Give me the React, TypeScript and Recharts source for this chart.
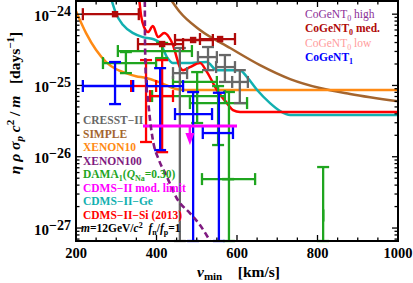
import React from 'react';
import { ComposedChart, Line, Scatter, XAxis, YAxis, ErrorBar } from 'recharts';

const W = 413;
const H = 283;
const PL = 76;
const PR = 398;
const PT = 1;
const PB = 241;
const FONT = '"Liberation Serif", "Times New Roman", Times, serif';

const X_DOMAIN: [number, number] = [200, 1000];
const Y_DOMAIN: [number, number] = [6.58e-28, 1.53e-24];
const Y_MIN = Y_DOMAIN[0];
const Y_MAX = Y_DOMAIN[1];

const xMajor = [200, 400, 600, 800, 1000];
const xTicks = [200, 250, 300, 350, 400, 450, 500, 550, 600, 650, 700, 750, 800, 850, 900, 950, 1000];
const yMajor = [1e-27, 1e-26, 1e-25, 1e-24];
const yMajorLabels = ['\u221227', '\u221226', '\u221225', '\u221224'];
const yMinorFactors = [2, 3, 4, 5, 6, 7, 8, 9];
const yTicks = [
  7e-28, 8e-28, 9e-28,
  ...yMajor,
  ...yMajor.flatMap((m) => yMinorFactors.map((f) => f * m)),
].filter((v) => v >= Y_MIN && v <= Y_MAX);

// ---- limit curves: v_min [km/s], rate [days^-1]
const simpleCurve = [
  { x: 438, y: 1.53e-24 }, { x: 458, y: 1.07e-24 }, { x: 508, y: 6.0e-25 },
  { x: 583, y: 3.35e-25 }, { x: 657, y: 1.93e-25 }, { x: 732, y: 1.23e-25 },
  { x: 806, y: 9.2e-26 }, { x: 881, y: 7.6e-26 }, { x: 1000, y: 6.0e-26 },
];
const xenon10Curve = [
  { x: 200, y: 1.1e-24 }, { x: 225, y: 5.43e-25 }, { x: 250, y: 3.14e-25 },
  { x: 275, y: 2.13e-25 }, { x: 299, y: 1.7e-25 }, { x: 324, y: 1.49e-25 },
  { x: 349, y: 1.35e-25 }, { x: 374, y: 1.27e-25 }, { x: 399, y: 1.15e-25 },
  { x: 424, y: 1.01e-25 }, { x: 448, y: 8.9e-26 }, { x: 473, y: 8.63e-26 },
  { x: 1000, y: 8.63e-26 },
];
const cdmsGeCurve = [
  { x: 289, y: 1.53e-24 }, { x: 299, y: 1.035e-24 }, { x: 317, y: 7.03e-25 },
  { x: 342, y: 5.43e-25 }, { x: 366, y: 4.77e-25 }, { x: 391, y: 4.48e-25 },
  { x: 409, y: 3.94e-25 }, { x: 426, y: 2.5e-25 }, { x: 441, y: 2.06e-25 },
  { x: 476, y: 2.06e-25 }, { x: 525, y: 2.13e-25 }, { x: 550, y: 1.64e-25 },
  { x: 607, y: 1.64e-25 }, { x: 625, y: 1.31e-25 }, { x: 650, y: 8.63e-26 },
  { x: 682, y: 5.66e-26 }, { x: 707, y: 4.38e-26 }, { x: 732, y: 3.85e-26 },
  { x: 1000, y: 3.85e-26 },
];
const cdmsSiCurve = [
  { x: 357.5, y: 1.53e-24 }, { x: 361.5, y: 9.7e-25 }, { x: 369, y: 6.59e-25 },
  { x: 379, y: 5.61e-25 }, { x: 391, y: 6.8e-25 }, { x: 404, y: 4.77e-25 },
  { x: 419, y: 5.43e-25 }, { x: 431, y: 4.77e-25 }, { x: 441, y: 3.69e-25 },
  { x: 448.5, y: 2.67e-25 }, { x: 458, y: 1.81e-25 }, { x: 466, y: 1.64e-25 },
  { x: 483, y: 1.81e-25 }, { x: 508, y: 2.06e-25 }, { x: 525.5, y: 1.54e-25 },
  { x: 550, y: 8.63e-26 }, { x: 575, y: 5.66e-26 }, { x: 590, y: 4.52e-26 },
  { x: 607.5, y: 4.24e-26 }, { x: 1000, y: 4.24e-26 },
];
const xenon100Curve = [
  { x: 371.0, y: 1.53e-24 }, { x: 371.4, y: 4.34e-25 }, { x: 374, y: 1.19e-25 },
  { x: 379, y: 6.24e-26 }, { x: 384, y: 3.27e-26 }, { x: 391, y: 1.71e-26 },
  { x: 406, y: 9.0e-27 }, { x: 424, y: 5.5e-27 }, { x: 453, y: 2.47e-27 },
  { x: 483, y: 1.62e-27 }, { x: 508, y: 1.1e-27 }, { x: 533, y: 6.6e-28 },
];
const cdmsModLimit = [{ x: 366.5, y: 2.7e-26 }, { x: 600, y: 2.7e-26 }];
const cdmsModArrowStem = [{ x: 483, y: 2.7e-26 }, { x: 483.01, y: 1.8e-26 }];
const cdmsModArrowTip = [{ x: 483, y: 1.46e-26 }];

// ---- data crosses: [v, vLow, vHigh, rate, rateLow, rateHigh]  (rateLow = axis floor: open downward)
const cresstPoints = [
  [458, 441, 476, 1.49e-25, Y_MIN, 3.35e-25],
  [528, 503, 550, 2.5e-25, 1.64e-25, 3.46e-25],
  [570, 548, 595, 1.81e-25, 1.12e-25, 2.67e-25],
  [607, 588, 627, 1.12e-25, 5.66e-26, 1.64e-25],
];
const damaPoints = [
  [414, 304, 488, 3.04e-25, 2.42e-25, 3.94e-25],
  [324, 267, 399, 2.06e-25, 1.49e-25, 2.94e-25],
  [501, 441, 550, 1.12e-25, 2.97e-26, 1.54e-25],
  [553, 389, 570, 7.1e-26, 1.46e-26, 9.8e-26],
  [580, 483, 625, 5.66e-26, Y_MIN, 8.1e-26],
  [578, 513, 645, 4.86e-27, 4.86e-27, 4.86e-27],
  [814, 814, 814, 1.5e-27, Y_MIN, 7.17e-27],
];
const cogent1Points = [
  [297, 217, 342, 9.82e-26, 5.48e-26, 2.13e-25],
  [409, 376, 466, 9.8e-26, 1.24e-26, 1.75e-25],
  [491, 446, 538, 3.97e-26, Y_MIN, 8.08e-26],
  [555, 515, 590, 2.15e-26, Y_MIN, 7.9e-26],
];
const cdmsSiPoints = [
  [374, 337, 399, 9.82e-26, 1.61e-26, 2.27e-25],
  [414, 384, 441, 7.1e-26, 1.16e-26, 2.27e-25],
];
const cogent0MedPoints = [
  [297, 217, 356, 1.0e-24, 1.0e-24, 1.0e-24],
  [414, 354, 466, 3.81e-25, 3.81e-25, 3.81e-25],
  [491, 446, 540, 4.34e-25, 4.34e-25, 4.34e-25],
  [558, 508, 595, 4.48e-25, 4.48e-25, 4.48e-25],
];

const C = {
  cresst: '#676767',
  simple: '#a4652e',
  xenon10: '#ff8a14',
  xenon100: '#7f1a80',
  dama: '#1fa51f',
  mod: '#ff00ff',
  ge: '#12b0b0',
  si: '#ff0000',
  high: '#8b2f97',
  med: '#b00a0a',
  low: '#ff9c9c',
  cogent1: '#0000ff',
};

const toCross = (rows: number[][]) =>
  rows.map(([v, vLo, vHi, r, rLo, rHi]) => ({
    x: v,
    y: r,
    ex: [v - vLo, vHi - v],
    ey: [r - rLo, rHi - r],
  }));

const noShape = () => <g />;
const squareShape = (p: any) => (
  <rect x={p.cx - 3.2} y={p.cy - 3.2} width={6.4} height={6.4} fill={C.med} />
);
const arrowShape = (p: any) => (
  <path d={`M${p.cx - 4.5},${p.cy - 12} L${p.cx + 4.5},${p.cy - 12} L${p.cx},${p.cy} Z`} fill={C.mod} />
);

const renderXTick = (props: any) => {
  const { x, payload } = props;
  const v = payload.value as number;
  const major = xMajor.indexOf(v) >= 0;
  const len = major ? 6 : 3.5;
  return (
    <g>
      <line x1={x} x2={x} y1={PB} y2={PB - len} stroke="#000" strokeWidth={1.3} />
      <line x1={x} x2={x} y1={PT} y2={PT + len} stroke="#000" strokeWidth={1.3} />
      {major && (
        <text x={x} y={258} textAnchor="middle" fontFamily={FONT} fontWeight="bold" fontSize={14.5} fill="#000">
          {v}
        </text>
      )}
    </g>
  );
};

const renderYTick = (props: any) => {
  const { y, payload } = props;
  const v = payload.value as number;
  const idx = yMajor.indexOf(v);
  const major = idx >= 0;
  const len = major ? 6 : 3.5;
  return (
    <g>
      <line x1={PL} x2={PL + len} y1={y} y2={y} stroke="#000" strokeWidth={1.3} />
      <line x1={PR} x2={PR - len} y1={y} y2={y} stroke="#000" strokeWidth={1.3} />
      {major && (
        <text x={71} y={y + 6.5} textAnchor="end" fontFamily={FONT} fontWeight="bold" fill="#000">
          <tspan fontSize={15}>10</tspan>
          <tspan fontSize={14} dy={-5}>{yMajorLabels[idx]}</tspan>
        </text>
      )}
    </g>
  );
};

const legendLeft = [
  { key: 'cresst', color: C.cresst },
  { key: 'simple', color: C.simple },
  { key: 'xenon10', color: C.xenon10 },
  { key: 'xenon100', color: C.xenon100 },
  { key: 'dama', color: C.dama },
  { key: 'mod', color: C.mod },
  { key: 'ge', color: C.ge },
  { key: 'si', color: C.si },
  { key: 'mass', color: '#000' },
];

const legendContent = (key: string) => {
  switch (key) {
    case 'cresst':
      return 'CRESST\u2212II';
    case 'simple':
      return 'SIMPLE';
    case 'xenon10':
      return 'XENON10';
    case 'xenon100':
      return 'XENON100';
    case 'dama':
      return (
        <>
          <tspan>DAMA</tspan>
          <tspan fontSize={8} dy={3}>1</tspan>
          <tspan dy={-3}>(</tspan>
          <tspan fontStyle="italic">Q</tspan>
          <tspan fontSize={8} dy={3}>Na</tspan>
          <tspan dy={-3}>=0.30)</tspan>
        </>
      );
    case 'mod':
      return 'CDMS\u2212II mod. limit';
    case 'ge':
      return 'CDMS\u2212II\u2212Ge';
    case 'si':
      return 'CDMS\u2212II\u2212Si (2013)';
    default:
      return (
        <>
          <tspan fontStyle="italic">m</tspan>
          <tspan>=12GeV/</tspan>
          <tspan fontStyle="italic">c</tspan>
          <tspan fontSize={8} dy={-4}>2</tspan>
          <tspan fontStyle="italic" dy={4}>{'\u2002f'}</tspan>
          <tspan fontSize={8} dy={3}>n</tspan>
          <tspan dy={-3}>/</tspan>
          <tspan fontStyle="italic">f</tspan>
          <tspan fontSize={8} dy={3}>p</tspan>
          <tspan dy={-3}>=1</tspan>
        </>
      );
  }
};

const legendRight = [
  { label: ' high', sub: '0', color: C.high, bold: false },
  { label: ' med.', sub: '0', color: C.med, bold: true },
  { label: ' low', sub: '0', color: C.low, bold: false },
  { label: '', sub: '1', color: C.cogent1, bold: true },
];

export default function App() {
  const lw = 2.5;
  return (
    <div style={{ position: 'fixed', left: 0, top: 0, width: W, height: H, background: '#fff' }}>
      <ComposedChart width={W} height={H} margin={{ top: PT, right: W - PR, bottom: 0, left: 0 }}>
        <XAxis
          type="number"
          dataKey="x"
          domain={X_DOMAIN}
          ticks={xTicks}
          interval={0}
          tick={renderXTick}
          tickLine={false}
          axisLine={false}
          height={H - PB}
          allowDataOverflow
        />
        <YAxis
          type="number"
          dataKey="y"
          scale="log"
          domain={Y_DOMAIN}
          ticks={yTicks}
          interval={0}
          tick={renderYTick}
          tickLine={false}
          axisLine={false}
          width={PL}
          allowDataOverflow
        />
        <Line data={simpleCurve} dataKey="y" type="monotone" stroke={C.simple} strokeWidth={lw} dot={false} isAnimationActive={false} />
        <Line data={xenon10Curve} dataKey="y" type="monotone" stroke={C.xenon10} strokeWidth={lw} dot={false} isAnimationActive={false} />
        <Line data={cdmsGeCurve} dataKey="y" type="monotone" stroke={C.ge} strokeWidth={lw} dot={false} isAnimationActive={false} />
        <Line data={cdmsSiCurve} dataKey="y" type="monotone" stroke={C.si} strokeWidth={lw} dot={false} isAnimationActive={false} />

        <Scatter data={toCross(damaPoints)} dataKey="y" shape={noShape} isAnimationActive={false}>
          <ErrorBar dataKey="ex" direction="x" stroke={C.dama} strokeWidth={2.3} width={6} />
          <ErrorBar dataKey="ey" direction="y" stroke={C.dama} strokeWidth={2.3} width={6} />
        </Scatter>
        <Scatter data={toCross(cresstPoints)} dataKey="y" shape={noShape} isAnimationActive={false}>
          <ErrorBar dataKey="ex" direction="x" stroke={C.cresst} strokeWidth={2.3} width={6} />
          <ErrorBar dataKey="ey" direction="y" stroke={C.cresst} strokeWidth={2.3} width={6} />
        </Scatter>
        <Scatter data={toCross(cdmsSiPoints)} dataKey="y" shape={noShape} isAnimationActive={false}>
          <ErrorBar dataKey="ex" direction="x" stroke={C.si} strokeWidth={2.3} width={6} />
          <ErrorBar dataKey="ey" direction="y" stroke={C.si} strokeWidth={2.3} width={6} />
        </Scatter>
        <Scatter data={toCross(cogent1Points)} dataKey="y" shape={noShape} isAnimationActive={false}>
          <ErrorBar dataKey="ex" direction="x" stroke={C.cogent1} strokeWidth={2.3} width={6} />
          <ErrorBar dataKey="ey" direction="y" stroke={C.cogent1} strokeWidth={2.3} width={6} />
        </Scatter>
        <Scatter data={toCross(cogent0MedPoints)} dataKey="y" shape={squareShape} isAnimationActive={false}>
          <ErrorBar dataKey="ex" direction="x" stroke={C.med} strokeWidth={2.3} width={6} />
        </Scatter>

        <Line data={cdmsModLimit} dataKey="y" type="linear" stroke={C.mod} strokeWidth={2.8} dot={false} isAnimationActive={false} />
        <Line data={cdmsModArrowStem} dataKey="y" type="linear" stroke={C.mod} strokeWidth={2.5} dot={false} isAnimationActive={false} />
        <Scatter data={cdmsModArrowTip} dataKey="y" shape={arrowShape} isAnimationActive={false} />
        <Line
          data={xenon100Curve}
          dataKey="y"
          type="monotone"
          stroke={C.xenon100}
          strokeWidth={2.6}
          strokeDasharray="6 3.5"
          dot={false}
          isAnimationActive={false}
        />
      </ComposedChart>

      <svg width={W} height={H} style={{ position: 'absolute', left: 0, top: 0, pointerEvents: 'none' }}>
        <rect x={PL} y={PT} width={PR - PL} height={PB - PT} fill="none" stroke="#000" strokeWidth={2} />

        {legendLeft.map((row, i) => (
          <text
            key={row.key}
            x={row.key === 'mass' ? 81 : 83}
            y={124 + i * 13.5}
            fontFamily={FONT}
            fontWeight="bold"
            fontSize={11.5}
            fill={row.color}
          >
            {legendContent(row.key)}
          </text>
        ))}

        {legendRight.map((row, i) => (
          <text
            key={i}
            x={305}
            y={18 + i * 14.3}
            fontFamily={FONT}
            fontWeight={row.bold ? 'bold' : 'normal'}
            fontSize={11.5}
            fill={row.color}
          >
            <tspan>CoGeNT</tspan>
            <tspan fontSize={8} dy={3}>{row.sub}</tspan>
            {row.label ? <tspan dy={-3}>{row.label}</tspan> : null}
          </text>
        ))}

        <text x={197} y={277} fontFamily={FONT} fontWeight="bold" fontSize={15.5} fill="#000">
          <tspan fontStyle="italic">v</tspan>
          <tspan fontSize={11} dy={3}>min</tspan>
          <tspan dy={-3}>{'\u2003[km/s]'}</tspan>
        </text>

        <text
          transform="translate(20,103) rotate(-90)"
          textAnchor="middle"
          fontFamily={FONT}
          fontWeight="bold"
          fontSize={15.5}
          fill="#000"
        >
          <tspan fontStyle="italic">{'\u03b7 \u03c1 \u03c3'}</tspan>
          <tspan fontStyle="italic" fontSize={11} dy={3}>p</tspan>
          <tspan fontStyle="italic" dy={-3}>{' c'}</tspan>
          <tspan fontSize={11} dy={-6}>2</tspan>
          <tspan dy={6}>{' / '}</tspan>
          <tspan fontStyle="italic">m</tspan>
          <tspan>{'\u2002 [days'}</tspan>
          <tspan fontSize={11} dy={-6}>{'\u22121'}</tspan>
          <tspan dy={6}>]</tspan>
        </text>
      </svg>
    </div>
  );
}
